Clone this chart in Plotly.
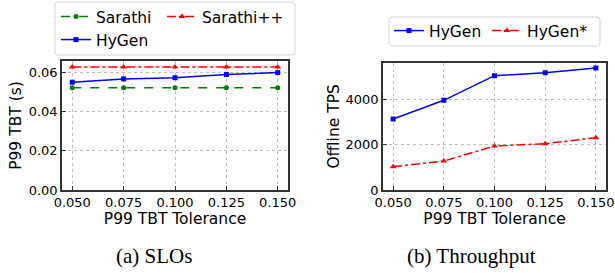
import plotly.graph_objects as go

tolerance = [0.050, 0.075, 0.100, 0.125, 0.150]
tolerance_labels = ["0.050", "0.075", "0.100", "0.125", "0.150"]

sarathi_tbt = [0.0520, 0.0520, 0.0520, 0.0520, 0.0520]
sarathi_pp_tbt = [0.0626, 0.0626, 0.0626, 0.0626, 0.0626]
hygen_tbt = [0.0548, 0.0565, 0.0571, 0.0587, 0.0597]

hygen_tps = [3135, 3960, 5046, 5180, 5386]
hygen_star_tps = [1029, 1280, 1943, 2045, 2310]

W, H = 615, 273
def px(x): return x / W
def py(y): return 1 - y / H

fig = go.Figure()

fig.add_trace(go.Scatter(x=tolerance, y=sarathi_tbt, name="Sarathi", mode="lines+markers",
                         line=dict(color="green", width=1.5, dash="dash"),
                         marker=dict(symbol="circle", size=5, color="green"),
                         xaxis="x", yaxis="y", legend="legend"))
fig.add_trace(go.Scatter(x=tolerance, y=sarathi_pp_tbt, name="Sarathi++", mode="lines+markers",
                         line=dict(color="red", width=1.5, dash="dashdot"),
                         marker=dict(symbol="triangle-up", size=6, color="red"),
                         xaxis="x", yaxis="y", legend="legend4"))
fig.add_trace(go.Scatter(x=tolerance, y=hygen_tbt, name="HyGen", mode="lines+markers",
                         line=dict(color="blue", width=1.5),
                         marker=dict(symbol="square", size=5, color="blue"),
                         xaxis="x", yaxis="y", legend="legend2"))

fig.add_trace(go.Scatter(x=tolerance, y=hygen_tps, name="HyGen", mode="lines+markers",
                         line=dict(color="blue", width=1.5),
                         marker=dict(symbol="square", size=5, color="blue"),
                         xaxis="x2", yaxis="y2", legend="legend3"))
fig.add_trace(go.Scatter(x=tolerance, y=hygen_star_tps, name="HyGen*", mode="lines+markers",
                         line=dict(color="red", width=1.5, dash="dashdot"),
                         marker=dict(symbol="triangle-up", size=6, color="red"),
                         xaxis="x2", yaxis="y2", legend="legend5"))

tick_font = dict(family="DejaVu Sans", size=13, color="black")
title_font = dict(family="DejaVu Sans", size=15.5, color="black")
legend_font = dict(family="DejaVu Sans", size=15.5, color="black")

axis_common = dict(showline=True, mirror=True, linecolor="#333333", linewidth=1.5,
                   ticks="inside", ticklen=4, tickcolor="#333333",
                   showgrid=True, gridcolor="#bdbdbd", griddash="dot", gridwidth=1,
                   zeroline=False, tickfont=tick_font, automargin=False)

def leg(x, y):
    return dict(orientation="h", x=px(x), y=py(y), xanchor="left", yanchor="middle",
                font=legend_font, bgcolor="rgba(0,0,0,0)", borderwidth=0)

fig.update_layout(
    width=W, height=H, margin=dict(l=0, r=0, t=0, b=0, autoexpand=False),
    paper_bgcolor="white", plot_bgcolor="white",
    xaxis=dict(domain=[px(62), px(288)], range=[0.045, 0.155], tickvals=tolerance,
               ticktext=tolerance_labels, anchor="y",
               title=dict(text="P99 TBT Tolerance", font=title_font, standoff=3), **axis_common),
    yaxis=dict(domain=[py(190), py(61)], range=[0, 0.0656], tickvals=[0, 0.02, 0.04, 0.06],
               tickformat=".2f", anchor="x",
               title=dict(text="P99 TBT (s)", font=title_font, standoff=3), **axis_common),
    xaxis2=dict(domain=[px(383), px(606)], range=[0.045, 0.155], tickvals=tolerance,
                ticktext=tolerance_labels, anchor="y2",
                title=dict(text="P99 TBT Tolerance", font=title_font, standoff=3), **axis_common),
    yaxis2=dict(domain=[py(190), py(62.7)], range=[0, 5620], tickvals=[0, 2000, 4000],
                anchor="x2",
                title=dict(text="Offline TPS", font=title_font, standoff=2), **axis_common),
    legend=leg(56, 17),
    legend4=leg(162, 17),
    legend2=leg(56, 40),
    legend3=leg(389, 31),
    legend5=leg(487, 31),
    showlegend=True,
)

def rounded_box(x0, y0, x1, y1, r=3):
    X0, X1 = px(x0), px(x1)
    Y0, Y1 = py(y0), py(y1)
    rx, ry = r / W, r / H
    return (f"M{X0+rx},{Y0} L{X1-rx},{Y0} Q{X1},{Y0} {X1},{Y0-ry} "
            f"L{X1},{Y1+ry} Q{X1},{Y1} {X1-rx},{Y1} L{X0+rx},{Y1} Q{X0},{Y1} {X0},{Y1+ry} "
            f"L{X0},{Y0-ry} Q{X0},{Y0} {X0+rx},{Y0} Z")

for box in [(55, 2, 295, 55), (389, 17, 600, 46)]:
    fig.add_shape(type="path", xref="paper", yref="paper", path=rounded_box(*box),
                  line=dict(color="#d0d0d0", width=1), fillcolor="rgba(255,255,255,0.8)",
                  layer="below")

cap_font = dict(family="Liberation Serif", size=21, color="black")
fig.add_annotation(text="(a) SLOs", x=px(154), y=py(256), xref="paper", yref="paper",
                   showarrow=False, font=cap_font, xanchor="center", yanchor="middle")
fig.add_annotation(text="(b) Throughput", x=px(471), y=py(256), xref="paper", yref="paper",
                   showarrow=False, font=cap_font, xanchor="center", yanchor="middle")

fig.write_html("out.html", config={"displayModeBar": False},
               post_script="document.body.style.margin='0';")
